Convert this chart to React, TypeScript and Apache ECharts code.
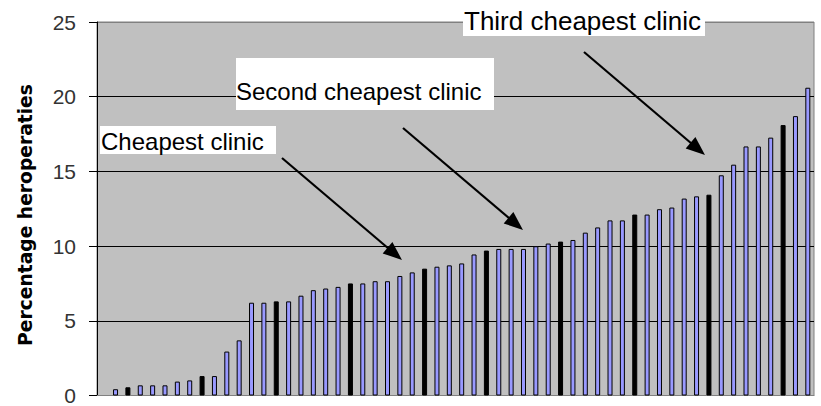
import React, { useEffect, useRef } from "react";
import * as echarts from "echarts";

// Percentage heroperaties per clinic (sorted ascending)
const clinicValues: number[] = [
  0.42, 0.55, 0.68, 0.68, 0.68, 0.93, 1.01, 1.3, 1.3, 2.94,
  3.69, 6.21, 6.21, 6.3, 6.3, 6.68, 7.05, 7.16, 7.27, 7.5,
  7.5, 7.65, 7.65, 8.0, 8.24, 8.49, 8.62, 8.71, 8.84, 9.44,
  9.7, 9.81, 9.81, 9.81, 9.99, 10.17, 10.3, 10.41, 10.9, 11.25,
  11.72, 11.72, 12.11, 12.11, 12.47, 12.58, 13.18, 13.33, 13.44, 14.74,
  15.45, 16.67, 16.67, 17.26, 18.1, 18.7, 20.6,
];
// Clinic numbers (1-based) whose bar appears solid black in the picture
const darkBars: number[] = [2, 8, 14, 20, 26, 31, 37, 43, 49, 55];
const clinicLabels: string[] = clinicValues.map((_, i) => String(i + 1));
// leading empty category slot, as in the original chart
const categories: string[] = [""].concat(clinicLabels);

const yTicks = { min: 0, max: 25, interval: 5 };
const yTitle = "Percentage heroperaties";

const annotations = [
  { text: "Cheapest clinic", size: 24, box: [100, 126, 176, 28], tx: 101, ty: 141.5, from: [282, 158], to: [402, 260] },
  { text: "Second cheapest clinic", size: 24, box: [236, 58, 258, 52], tx: 236, ty: 91.5, from: [403, 128], to: [523, 230] },
  { text: "Third cheapest clinic", size: 26, box: [463, 8, 242, 28], tx: 464, ty: 21, from: [584, 52], to: [705, 155] },
];

function arrow(from: number[], to: number[]) {
  const dx = to[0] - from[0];
  const dy = to[1] - from[1];
  const len = Math.sqrt(dx * dx + dy * dy);
  const ux = dx / len;
  const uy = dy / len;
  const hl = 19;
  const hw = 7.5;
  const bx = to[0] - ux * hl;
  const by = to[1] - uy * hl;
  return [
    {
      type: "line",
      shape: { x1: from[0], y1: from[1], x2: bx + ux * 2, y2: by + uy * 2 },
      style: { stroke: "#000", lineWidth: 2.2 },
      silent: true,
    },
    {
      type: "polygon",
      shape: {
        points: [
          [to[0], to[1]],
          [bx - uy * hw, by + ux * hw],
          [bx + uy * hw, by - ux * hw],
        ],
      },
      style: { fill: "#000" },
      silent: true,
    },
  ];
}

export default function App() {
  const ref = useRef<HTMLDivElement>(null);

  useEffect(() => {
    if (!ref.current) return;
    const chart = echarts.init(ref.current, null, { renderer: "svg" });

    const data: any[] = [null].concat(
      clinicValues.map((v, i) =>
        darkBars.indexOf(i + 1) >= 0
          ? { value: v, itemStyle: { color: "#000", borderColor: "#000" } }
          : v
      ) as any
    );

    const graphics: any[] = [];
    annotations.forEach((a) => {
      graphics.push({
        type: "rect",
        shape: { x: a.box[0], y: a.box[1], width: a.box[2], height: a.box[3] },
        style: { fill: "#fff" },
        z: 100,
        silent: true,
      });
      graphics.push({
        type: "text",
        x: a.tx,
        y: a.ty,
        z: 101,
        style: {
          text: a.text,
          fill: "#000",
          font: a.size + "px 'Liberation Sans', Arial, sans-serif",
          textAlign: "left",
          textVerticalAlign: "middle",
        },
        silent: true,
      });
      arrow(a.from, a.to).forEach((g) => graphics.push({ ...g, z: 102 }));
    });
    graphics.push({
      type: "text",
      x: 25,
      y: 215,
      rotation: Math.PI / 2,
      z: 101,
      style: {
        text: yTitle,
        fill: "#000",
        font: "bold 18.7px 'DejaVu Sans', sans-serif",
        textAlign: "center",
        textVerticalAlign: "middle",
      },
      silent: true,
    });

    chart.setOption({
      animation: false,
      backgroundColor: "#fff",
      grid: {
        left: 97,
        top: 22,
        width: 717,
        height: 377,
        show: true,
        backgroundColor: "#c0c0c0",
        borderColor: "#808080",
        borderWidth: 1,
      },
      xAxis: {
        type: "category",
        data: categories,
        axisLabel: { show: false },
        axisTick: { show: false },
        axisLine: { show: true, lineStyle: { color: "#808080", width: 1 } },
        splitLine: { show: false },
      },
      yAxis: {
        type: "value",
        min: yTicks.min,
        max: yTicks.max,
        interval: yTicks.interval,
        axisLine: { show: true, lineStyle: { color: "#000", width: 1 } },
        axisTick: { show: true, inside: false, length: 8, lineStyle: { color: "#000" } },
        axisLabel: {
          margin: 21,
          color: "#333",
          fontSize: 21,
          fontFamily: "'Liberation Sans', Arial, sans-serif",
        },
        splitLine: {
          show: true,
          lineStyle: {
            color: ["#808080", "#000", "#000", "#000", "#000", "#808080"],
            width: 1,
          },
        },
      },
      series: [
        {
          type: "bar",
          data: data,
          barWidth: 5,
          itemStyle: { color: "#9999ff", borderColor: "#000", borderWidth: 1 },
          silent: true,
        },
      ],
      graphic: graphics,
    });

    return () => chart.dispose();
  }, []);

  return (
    <div
      ref={ref}
      style={{ position: "fixed", left: 0, top: 0, width: 821, height: 406 }}
    />
  );
}
